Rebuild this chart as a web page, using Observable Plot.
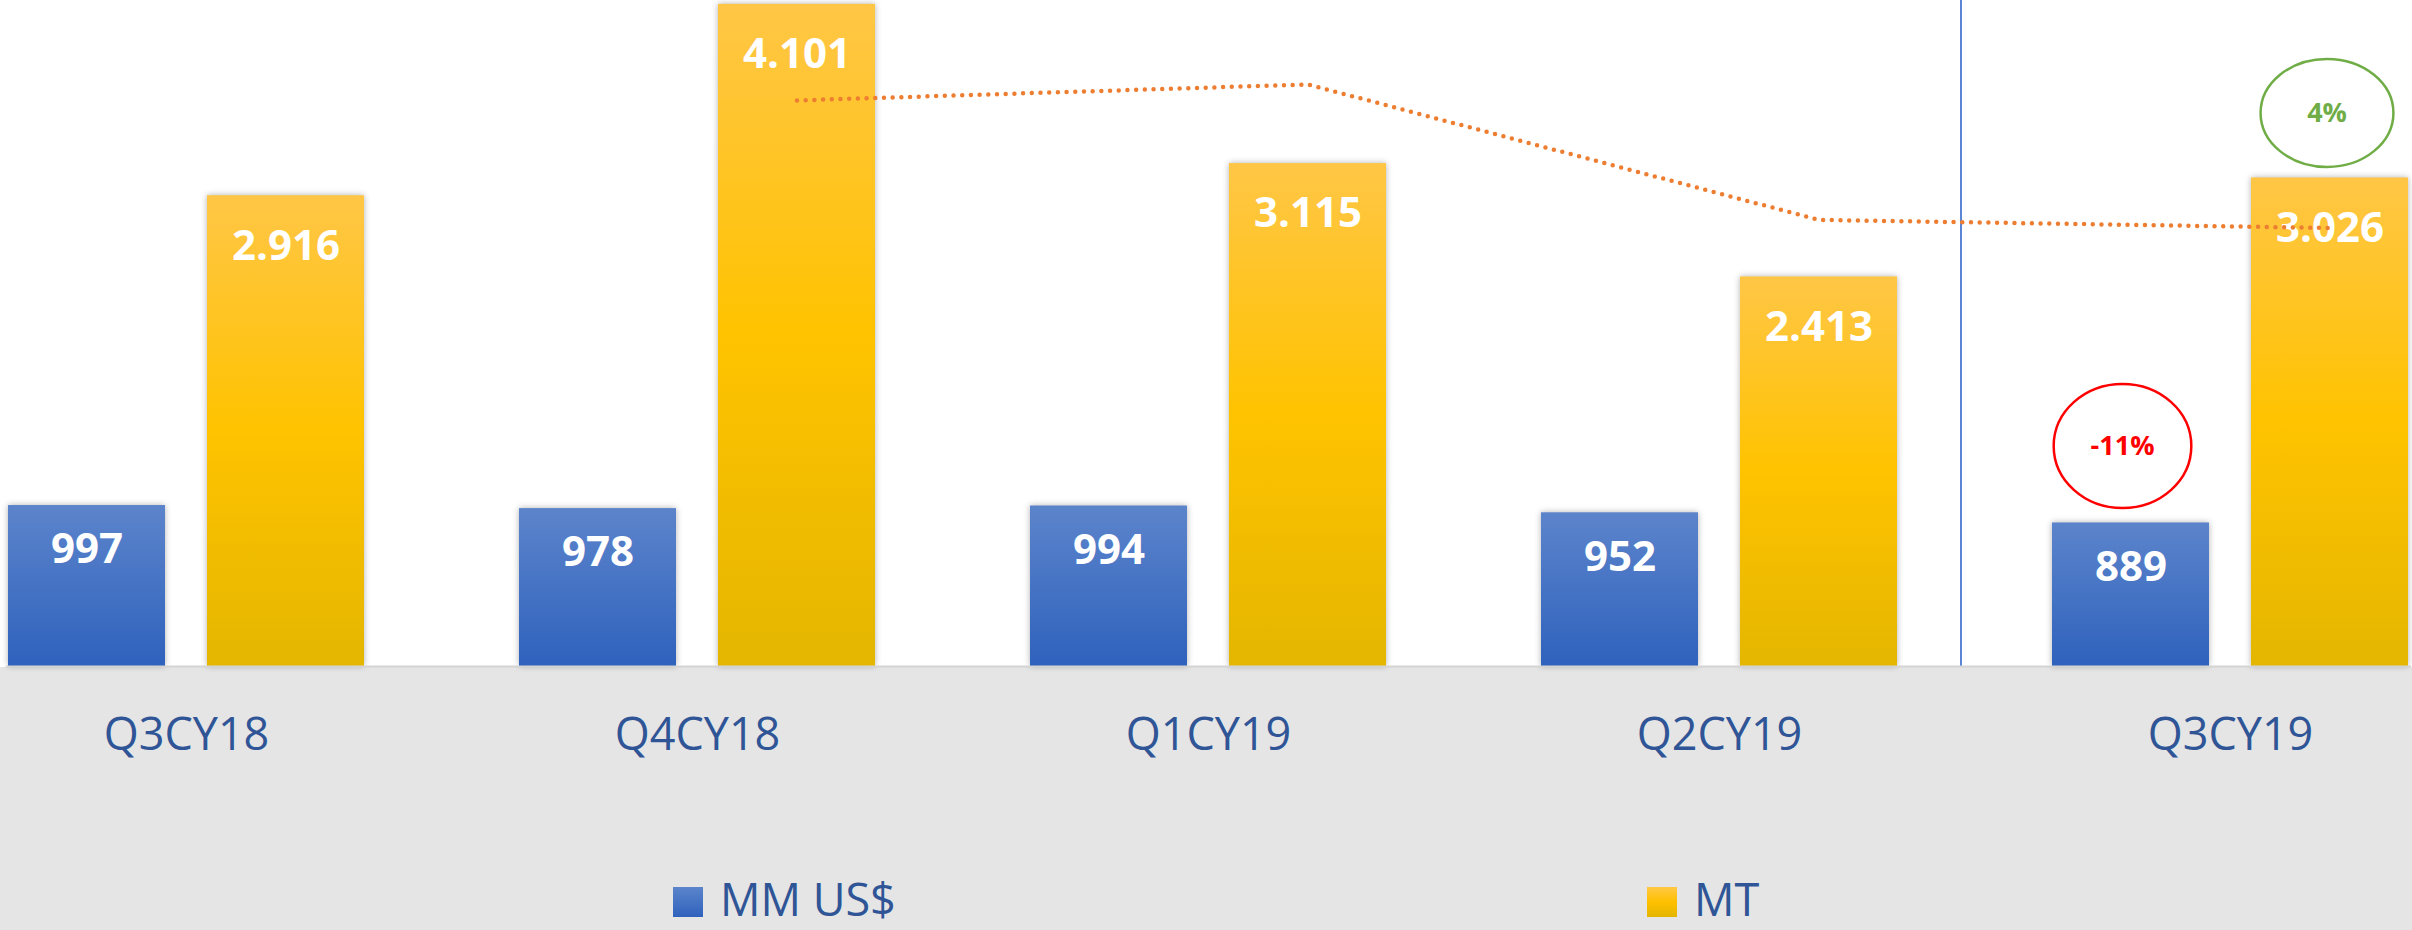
<!DOCTYPE html>
<html>
<head>
<meta charset="utf-8">
<script src="https://cdn.jsdelivr.net/npm/d3@7"></script>
<script src="https://cdn.jsdelivr.net/npm/@observablehq/plot@0.6"></script>
<style>
  html, body { margin: 0; padding: 0; background: #e5e5e5; }
  #chart { width: 2412px; height: 870px; }
  #legend { position: relative; width: 2412px; height: 60px; background: #e5e5e5;
            font-family: "Open Sans", sans-serif; font-size: 45px; color: #2F5597; }
  .item { position: absolute; top: 0; height: 60px; display: flex; align-items: flex-end; }
  .sw { width: 30px; height: 30px; margin-right: 17px; margin-bottom: 13px; }
  .lab { line-height: 45px; margin-bottom: 9px; }
</style>
</head>
<body>
<div id="chart"></div>
<div id="legend">
  <div class="item" style="left:673px"><div class="sw" style="background:linear-gradient(#5B84CB,#2F62BD)"></div><div class="lab">MM US$</div></div>
  <div class="item" style="left:1647px"><div class="sw" style="background:linear-gradient(#FFC845,#FFC000 50%,#E3B500)"></div><div class="lab">MT</div></div>
</div>
<script>
// ---- data ----
const quarters = ["Q3CY18", "Q4CY18", "Q1CY19", "Q2CY19", "Q3CY19"];
const mmUsd = [997, 978, 994, 952, 889];
const mt = [2916, 4101, 3115, 2413, 3026];
// dotted orange trend line over MT
const trendQuarters = ["Q4CY18", "Q1CY19", "Q2CY19", "Q3CY19"];
const trendValues = [3506, 3605, 2766, 2716];
// change annotations for the last quarter
const changeLabels = ["-11%", "4%"];

const rows = quarters.map((q, i) => ({quarter: q, mm: mmUsd[i], mt: mt[i]}));
const trend = trendQuarters.map((q, i) => ({quarter: q, v: trendValues[i]}));
const last = rows[rows.length - 1];
const redAnn = [{quarter: last.quarter, v: last.mm, label: changeLabels[0]}];
const greenAnn = [{quarter: last.quarter, v: last.mt, label: changeLabels[1]}];

const esLocale = d3.formatLocale({decimal: ",", thousands: ".", grouping: [3], currency: ["", ""]});
const fmt = esLocale.format(",d");

function ellipse(ratio) {
  return {
    draw(ctx, size) {
      const ry = Math.sqrt(size / Math.PI), rx = ry * ratio, k = 0.5523;
      ctx.moveTo(rx, 0);
      ctx.bezierCurveTo(rx, k * ry, k * rx, ry, 0, ry);
      ctx.bezierCurveTo(-k * rx, ry, -rx, k * ry, -rx, 0);
      ctx.bezierCurveTo(-rx, -k * ry, -k * rx, -ry, 0, -ry);
      ctx.bezierCurveTo(k * rx, -ry, rx, -k * ry, rx, 0);
      ctx.closePath();
    }
  };
}

const BAR_OFF = 99.5;
const chart = Plot.plot({
  width: 2412,
  height: 870,
  marginTop: 0,
  marginBottom: 204,
  marginLeft: 6,
  marginRight: 1,
  style: {
    fontFamily: "'Open Sans', sans-serif",
    background: "linear-gradient(to bottom, #ffffff 0px, #ffffff 667px, #e5e5e5 667px)"
  },
  x: {domain: quarters, paddingInner: 0.3027, paddingOuter: 0, axis: null},
  y: {domain: [0, 4125], axis: null},
  marks: [
    Plot.ruleX([quarters[4]], {x: d => d, dx: -269.5, stroke: "#5B86D6", strokeWidth: 2}),
    Plot.barY(rows, {x: "quarter", y: "mm", insetRight: 199, fill: "url(#gBlue)"}),
    Plot.barY(rows, {x: "quarter", y: "mt", insetLeft: 199, fill: "url(#gYellow)"}),
    Plot.ruleY([0], {stroke: "#d4d4d4", strokeWidth: 2}),
    Plot.text(rows, {x: "quarter", y: "mm", text: d => fmt(d.mm), dx: -BAR_OFF, dy: 28, lineAnchor: "top",
      fill: "white", fontWeight: "bold", fontSize: 42}),
    Plot.text(rows, {x: "quarter", y: "mt", text: d => fmt(d.mt), dx: BAR_OFF, dy: 34, lineAnchor: "top",
      fill: "white", fontWeight: "bold", fontSize: 42}),
    Plot.line(trend, {x: "quarter", y: "v", dx: BAR_OFF, curve: "linear", stroke: "#ED7D31",
      strokeWidth: 4.5, strokeDasharray: "0 8.7", strokeLinecap: "round", strokeLinejoin: "round"}),
    Plot.dot(redAnn, {x: "quarter", y: "v", dx: -108, dy: -77, r: 62, symbol: ellipse(1.11),
      stroke: "#FF0000", strokeWidth: 2.5, fill: "none"}),
    Plot.text(redAnn, {x: "quarter", y: "v", text: "label", dx: -108, dy: -77, fill: "#FF0000",
      fontWeight: "bold", fontSize: 27}),
    Plot.dot(greenAnn, {x: "quarter", y: "v", dx: 96.5, dy: -65, r: 54, symbol: ellipse(1.23),
      stroke: "#70AD47", strokeWidth: 2.5, fill: "none"}),
    Plot.text(greenAnn, {x: "quarter", y: "v", text: "label", dx: 96.5, dy: -65, fill: "#70AD47",
      fontWeight: "bold", fontSize: 27}),
    Plot.axisX({tickSize: 0, tickPadding: 52, fontSize: 45, color: "#2F5597", label: null})
  ]
});

const svg = d3.select(chart);
const defs = svg.insert("defs", ":first-child");
const gb = defs.append("linearGradient").attr("id", "gBlue").attr("x1", 0).attr("y1", 0).attr("x2", 0).attr("y2", 1);
gb.append("stop").attr("offset", "0%").attr("stop-color", "#5C84CB");
gb.append("stop").attr("offset", "100%").attr("stop-color", "#2F62BD");
const gy = defs.append("linearGradient").attr("id", "gYellow").attr("x1", 0).attr("y1", 0).attr("x2", 0).attr("y2", 1);
gy.append("stop").attr("offset", "0%").attr("stop-color", "#FFC646");
gy.append("stop").attr("offset", "50%").attr("stop-color", "#FFC300");
gy.append("stop").attr("offset", "100%").attr("stop-color", "#E4B600");
svg.selectAll("g[aria-label='bar'] rect").style("filter", "drop-shadow(0 0 3px rgba(0,0,0,0.3))");
document.getElementById("chart").appendChild(chart);
</script>
</body>
</html>
